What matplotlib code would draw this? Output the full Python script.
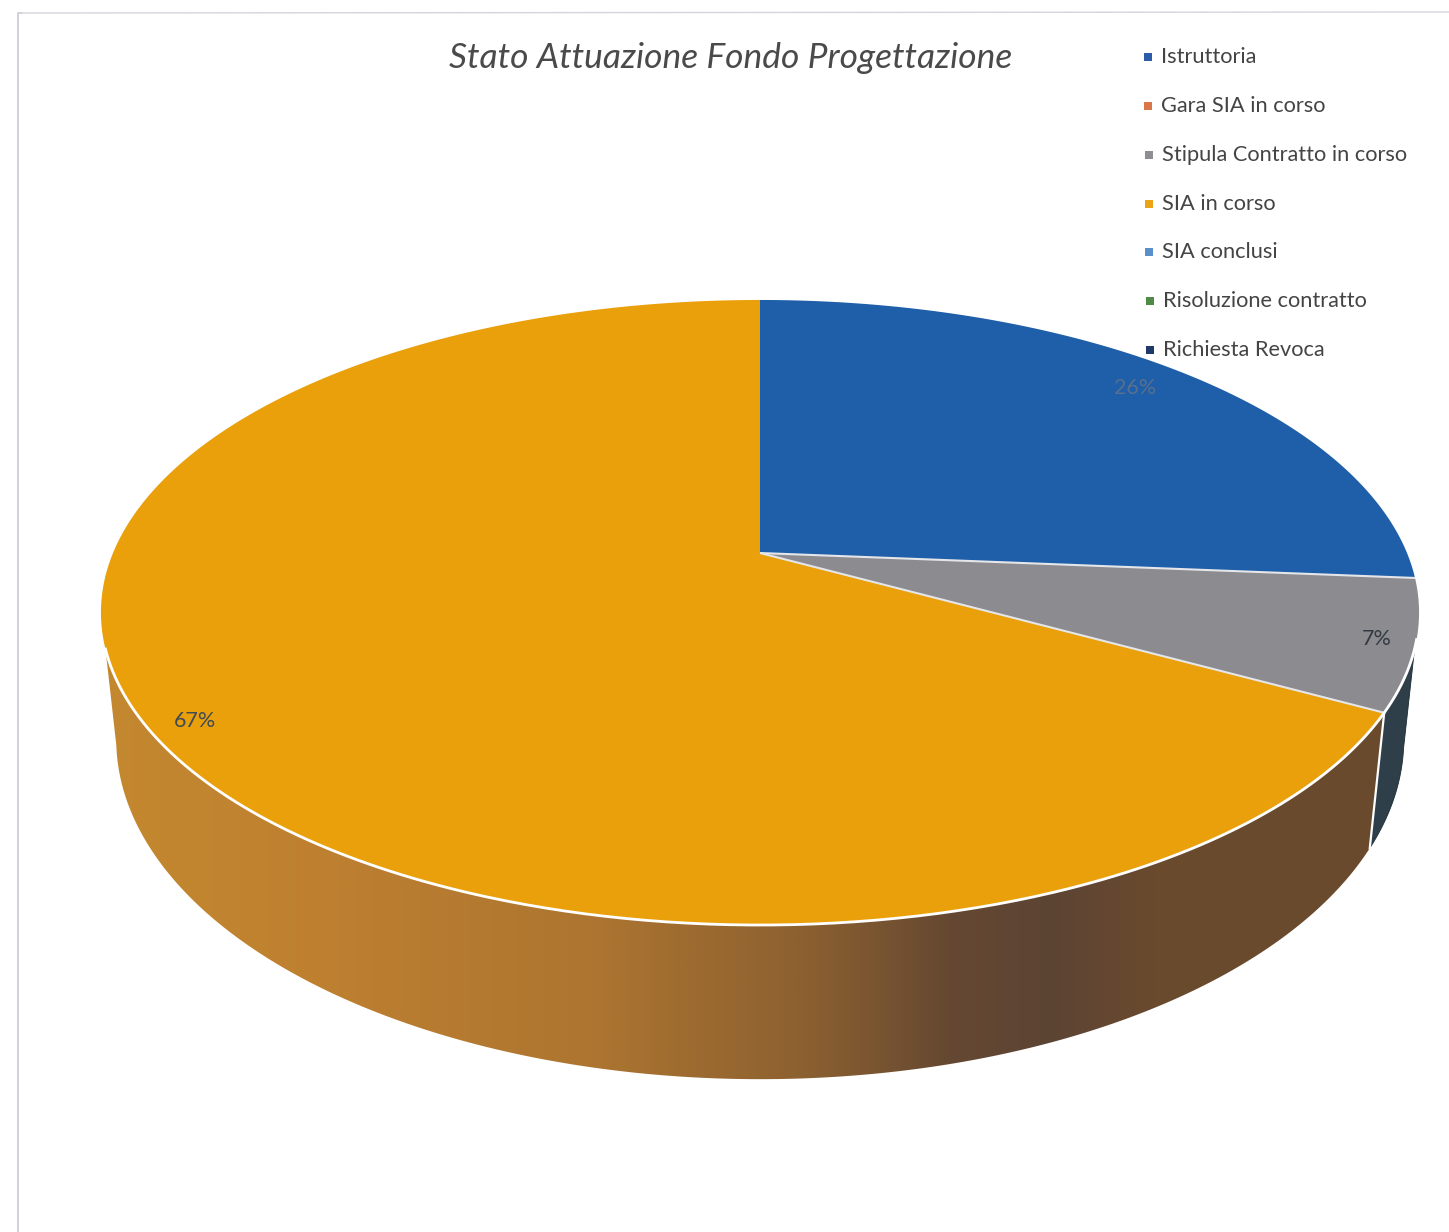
import numpy as np
import matplotlib
matplotlib.use("Agg")
import matplotlib.pyplot as plt
from matplotlib.colors import LinearSegmentedColormap
from matplotlib.patches import Polygon

title = "Stato Attuazione Fondo Progettazione"
categories = ["Istruttoria", "Gara SIA in corso", "Stipula Contratto in corso", "SIA in corso",
              "SIA conclusi", "Risoluzione contratto", "Richiesta Revoca"]
values = [26.3, 0, 6.7, 67, 0, 0, 0]
legend_colors = ["#2A5CA8", "#D9764A", "#8E8E92", "#EBA415", "#5B8FC9", "#4E8B45", "#1F3A68"]
top_colors = ["#1F5EA8", "#D9764A", "#8B8B90", "#E9A00B", "#5B8FC9", "#4E8B45", "#1F3A68"]

W, H = 1449, 1232
fig = plt.figure(figsize=(W / 100, H / 100), dpi=100, facecolor="white")
ax = fig.add_axes([0, 0, 1, 1])
ax.set_xlim(0, W)
ax.set_ylim(H, 0)
ax.axis("off")

CX, K = 760.0, 0.1904


def project(theta, r=1.0, y0=553.0, A=647.0, B=301.2):
    """Perspective view of a circle; theta in degrees clockwise from top."""
    t = np.radians(theta)
    u, v = r * np.sin(t), r * np.cos(t)
    d = 1 + K * v
    return CX + A * u / d, y0 - B * v / d


def arc(a, b, **kw):
    th = np.linspace(a, b, max(int(abs(b - a) * 2), 2))
    x, y = project(th, **kw)
    return np.column_stack([x, y])


BOTTOM = dict(y0=674.4, A=632.0, B=327.7)

# Side wall
shares = np.array(values, dtype=float)
cum = np.concatenate([[0], np.cumsum(shares)]) * 360 / shares.sum()
orange_start = cum[3]   # boundary between grey and orange on the rim
right_tan, left_top, left_bot = 107.5, 252.5, 258.0

side_pts = np.vstack([arc(left_top, orange_start), arc(orange_start, left_bot, **BOTTOM)])
side_cmap = LinearSegmentedColormap.from_list(
    "side",
    [(0.0, "#C4882F"), (0.17, "#BE8030"), (0.38, "#AD7530"), (0.55, "#8B6030"),
     (0.66, "#654832"), (0.74, "#5C4434"), (0.82, "#6A4A2E"), (1.0, "#6B4A2C")],
    N=1024)
side = Polygon(side_pts, closed=True, facecolor="none", edgecolor="none")
ax.add_patch(side)
im = ax.imshow(np.linspace(0, 1, 1024).reshape(1, -1), cmap=side_cmap, aspect="auto",
               extent=(105, 1385, 1090, 640), zorder=1)
im.set_clip_path(side)

navy_pts = np.vstack([arc(right_tan, orange_start), arc(orange_start, right_tan - 5, **BOTTOM)])
ax.add_patch(Polygon(navy_pts, closed=True, facecolor="#2E3F4A", edgecolor="#1d2a33", lw=0.6, zorder=1.5))

p_top = project(orange_start)
p_bot = project(orange_start, **BOTTOM)
ax.plot([p_top[0], p_bot[0]], [p_top[1], p_bot[1]], color="white", lw=1.6, zorder=2)

# Top face
apex = (CX, 553.0)
for i, val in enumerate(values):
    if val == 0:
        continue
    pts = np.vstack([[apex], arc(cum[i], cum[i + 1])])
    ax.add_patch(Polygon(pts, closed=True, facecolor=top_colors[i], edgecolor="none", zorder=3))
for a in [cum[1], cum[3]]:
    x, y = project(a)
    ax.plot([apex[0], x], [apex[1], y], color="#E4E6EA", lw=1.5, zorder=4, solid_capstyle="butt")
rim = arc(left_top, orange_start - 13)
ax.plot(rim[:, 0], rim[:, 1], color="white", lw=2.0, zorder=4)

# Data labels
label_xy = [(1135, 388), None, (1377, 639), (195, 721), None, None, None]
label_col = ["#58708F", None, "#333A42", "#3F4A55", None, None, None]
for val, xy, col in zip(values, label_xy, label_col):
    if xy is not None:
        ax.text(xy[0], xy[1], f"{round(val)}%", color=col, fontsize=15.5, family="Lato",
                ha="center", va="center", zorder=5)

# Title
ax.text(731, 58, title, fontsize=25.5, family="Lato", style="italic", weight="normal",
        color="#4A4A4A", ha="center", va="center", zorder=5)

# Legend
leg_y = np.linspace(57, 350, len(categories))
leg_x = np.linspace(1148, 1150, len(categories))
for name, color, x, y in zip(categories, legend_colors, leg_x, leg_y):
    ax.scatter([x], [y], marker="s", s=26, color=color, linewidths=0, zorder=5)
    ax.text(x + 13, y, name, fontsize=15.7, family="Lato", color="#444444",
            ha="left", va="center", zorder=5)

# Scanned page frame
ax.plot([18, 18, 22], [1232, 13, 13], color="#C9CAD6", lw=1.2, zorder=0)
ax.plot([18, 1449], [13, 12], color="#D4D5DC", lw=1.0, zorder=0)

fig.savefig("out.png", dpi=100, facecolor="white")
